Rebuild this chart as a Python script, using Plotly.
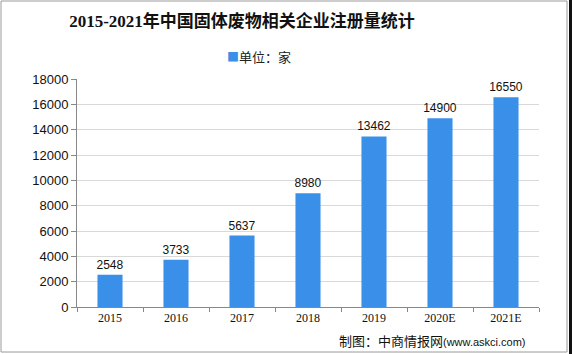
import plotly.graph_objects as go

categories = ["2015", "2016", "2017", "2018", "2019", "2020E", "2021E"]
values = [2548, 3733, 5637, 8980, 13462, 14900, 16550]
y_ticks = [0, 2000, 4000, 6000, 8000, 10000, 12000, 14000, 16000, 18000]
legend_label = "单位：家"
bar_color = "#3a8fe9"

W, H = 572, 354
L, R, T, B = 77, 33, 79, 47
PW, PH = W - L - R, H - T - B


def px_x(x):
    return (x - L) / PW


def px_y(y):
    return (H - B - y) / PH


fig = go.Figure()
fig.add_trace(go.Bar(
    x=categories, y=values, name=legend_label,
    marker=dict(color=bar_color, line=dict(width=0)),
    text=[str(v) for v in values], textposition="outside",
    constraintext="none",
    textfont=dict(family="Liberation Sans, Arial", size=12, color="#111111"),
    cliponaxis=False, showlegend=False,
))

fig.update_layout(
    width=W, height=H,
    margin=dict(l=L, r=R, t=T, b=B, pad=0),
    paper_bgcolor="white", plot_bgcolor="white",
    bargap=0.62,
    showlegend=False,
    title=dict(text="<b>2015-2021年中国固体废物相关企业注册量统计</b>",
               x=242 / W, xanchor="center", y=1 - 21 / H, yanchor="middle",
               font=dict(family="Liberation Serif, Noto Sans CJK SC", size=17, color="#111111")),
    font=dict(family="Liberation Sans, Noto Sans CJK SC", color="#222222"),
)

fig.update_yaxes(
    range=[0, 18000], tickvals=y_ticks, ticktext=[str(t) for t in y_ticks],
    showgrid=True, gridcolor="#d9d9d9", gridwidth=1,
    showline=True, linecolor="#888888", linewidth=1,
    ticks="outside", ticklen=5, tickcolor="#888888",
    tickfont=dict(family="Liberation Sans, Arial", size=13, color="#111111"),
    zeroline=False, fixedrange=True,
)
fig.update_xaxes(
    showline=True, linecolor="#888888", linewidth=1,
    ticks="outside", ticklen=4, tickcolor="#888888", tickson="boundaries",
    tickfont=dict(family="Liberation Serif, Times New Roman", size=12, color="#111111"),
    showgrid=False,
)

# legend (marker + label)
fig.add_annotation(
    xref="paper", yref="paper", x=px_x(259), y=px_y(57),
    xanchor="center", yanchor="middle", showarrow=False,
    text=f"<span style='color:{bar_color};font-size:12px'>■</span>{legend_label}",
    font=dict(family="Noto Sans CJK SC", size=13, color="#222222"),
)

# source note
fig.add_annotation(
    xref="paper", yref="paper", x=px_x(528), y=px_y(340),
    xanchor="right", yanchor="middle", showarrow=False,
    text="制图：中商情报网<span style='font-size:11px;font-family:Liberation Sans'>(www.askci.com)</span>",
    font=dict(family="Noto Sans CJK SC", size=13, color="#111111"),
)

# frame
fig.add_shape(type="rect", xref="paper", yref="paper",
              x0=px_x(1), x1=px_x(567), y0=px_y(352), y1=px_y(1),
              line=dict(color="#9a9a9a", width=1), layer="below")
fig.add_shape(type="rect", xref="paper", yref="paper",
              x0=px_x(569), x1=px_x(572), y0=px_y(354), y1=px_y(0),
              line=dict(width=0), fillcolor="#111111", layer="above")

fig.write_html("out.html")
